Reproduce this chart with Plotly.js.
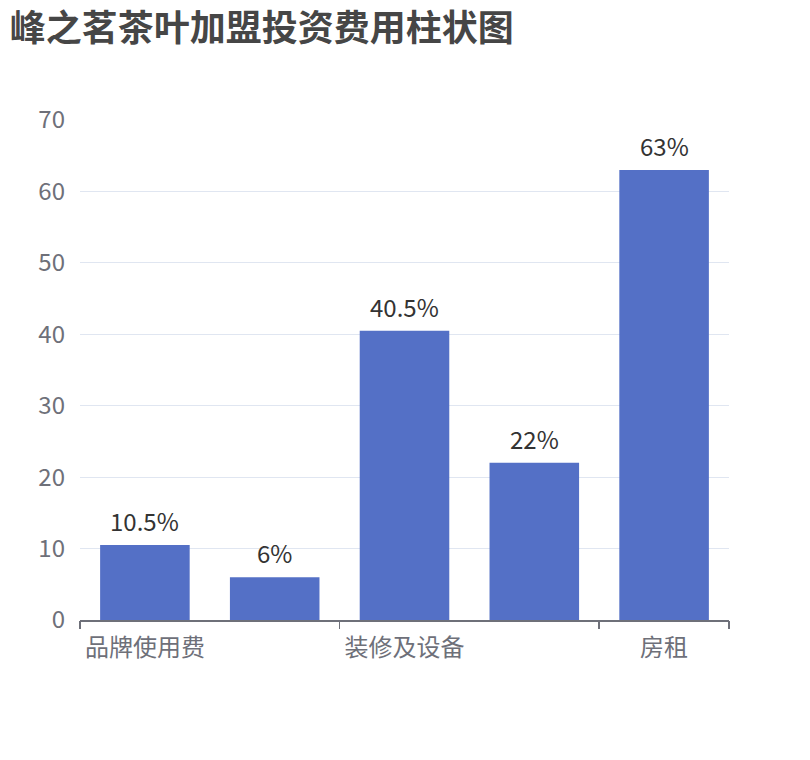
<!DOCTYPE html>
<html>
<head>
<meta charset="utf-8">
<script src="https://cdn.plot.ly/plotly-3.0.1.min.js"></script>
<style>html,body{margin:0;padding:0;background:#fff;}#chart{width:810px;height:760px;}</style>
</head>
<body>
<div id="chart"></div>
<script>
const categories = ['品牌使用费', '加盟费', '装修及设备', '首批进货', '房租'];
const values = [10.5, 6, 40.5, 22, 63];
const shownLabels = ['品牌使用费', '装修及设备', '房租'];
const yTicks = [0, 10, 20, 30, 40, 50, 60, 70];

const FONT = '"Noto Sans CJK SC", "Noto Sans", sans-serif';
const AXIS = '#6E7079';

const traces = [{
  type: 'bar',
  x: categories,
  y: values,
  marker: {color: '#5470c6'},
  hoverinfo: 'x+y'
}, {
  type: 'scatter',
  x: [],
  y: [],
  xaxis: 'x2',
  yaxis: 'y',
  hoverinfo: 'skip',
  showlegend: false
}];

const labels = categories.map((c, i) => ({
  x: c,
  y: values[i],
  xref: 'x',
  yref: 'y',
  text: values[i] + '%',
  showarrow: false,
  yanchor: 'bottom',
  yshift: 5,
  font: {family: FONT, size: 24, color: '#333333'}
}));

const layout = {
  width: 810,
  height: 760,
  margin: {l: 80, r: 81, t: 120, b: 140},
  paper_bgcolor: '#fff',
  plot_bgcolor: '#fff',
  showlegend: false,
  bargap: 0.31,
  font: {family: FONT},
  annotations: labels,
  title: {
    text: '<b>峰之茗茶叶加盟投资费用柱状图</b>',
    x: 0.012, xanchor: 'left',
    y: 0.963, yanchor: 'middle',
    font: {family: FONT, size: 36, color: '#464646'}
  },
  xaxis: {
    type: 'category',
    tickvals: shownLabels,
    ticktext: shownLabels,
    ticks: '',
    showline: true,
    linecolor: AXIS,
    linewidth: 1.5,
    showgrid: false,
    zeroline: false,
    tickfont: {family: FONT, size: 24, color: AXIS},
    ticklabelstandoff: 6
  },
  xaxis2: {
    overlaying: 'x',
    anchor: 'y',
    side: 'bottom',
    type: 'linear',
    range: [-0.5, 4.5],
    tickvals: [-0.5, 1.5, 3.5, 4.5],
    ticks: 'outside',
    ticklen: 8,
    tickwidth: 1.5,
    tickcolor: AXIS,
    showticklabels: false,
    showgrid: false,
    zeroline: false,
    showline: false
  },
  yaxis: {
    range: [0, 70],
    tickvals: yTicks,
    showgrid: true,
    gridcolor: '#E0E6F1',
    gridwidth: 1.2,
    zeroline: false,
    showline: false,
    ticks: '',
    tickfont: {family: FONT, size: 24, color: AXIS},
    ticklabelstandoff: 14
  }
};

Plotly.newPlot('chart', traces, layout, {displayModeBar: false, staticPlot: true});
</script>
</body>
</html>
